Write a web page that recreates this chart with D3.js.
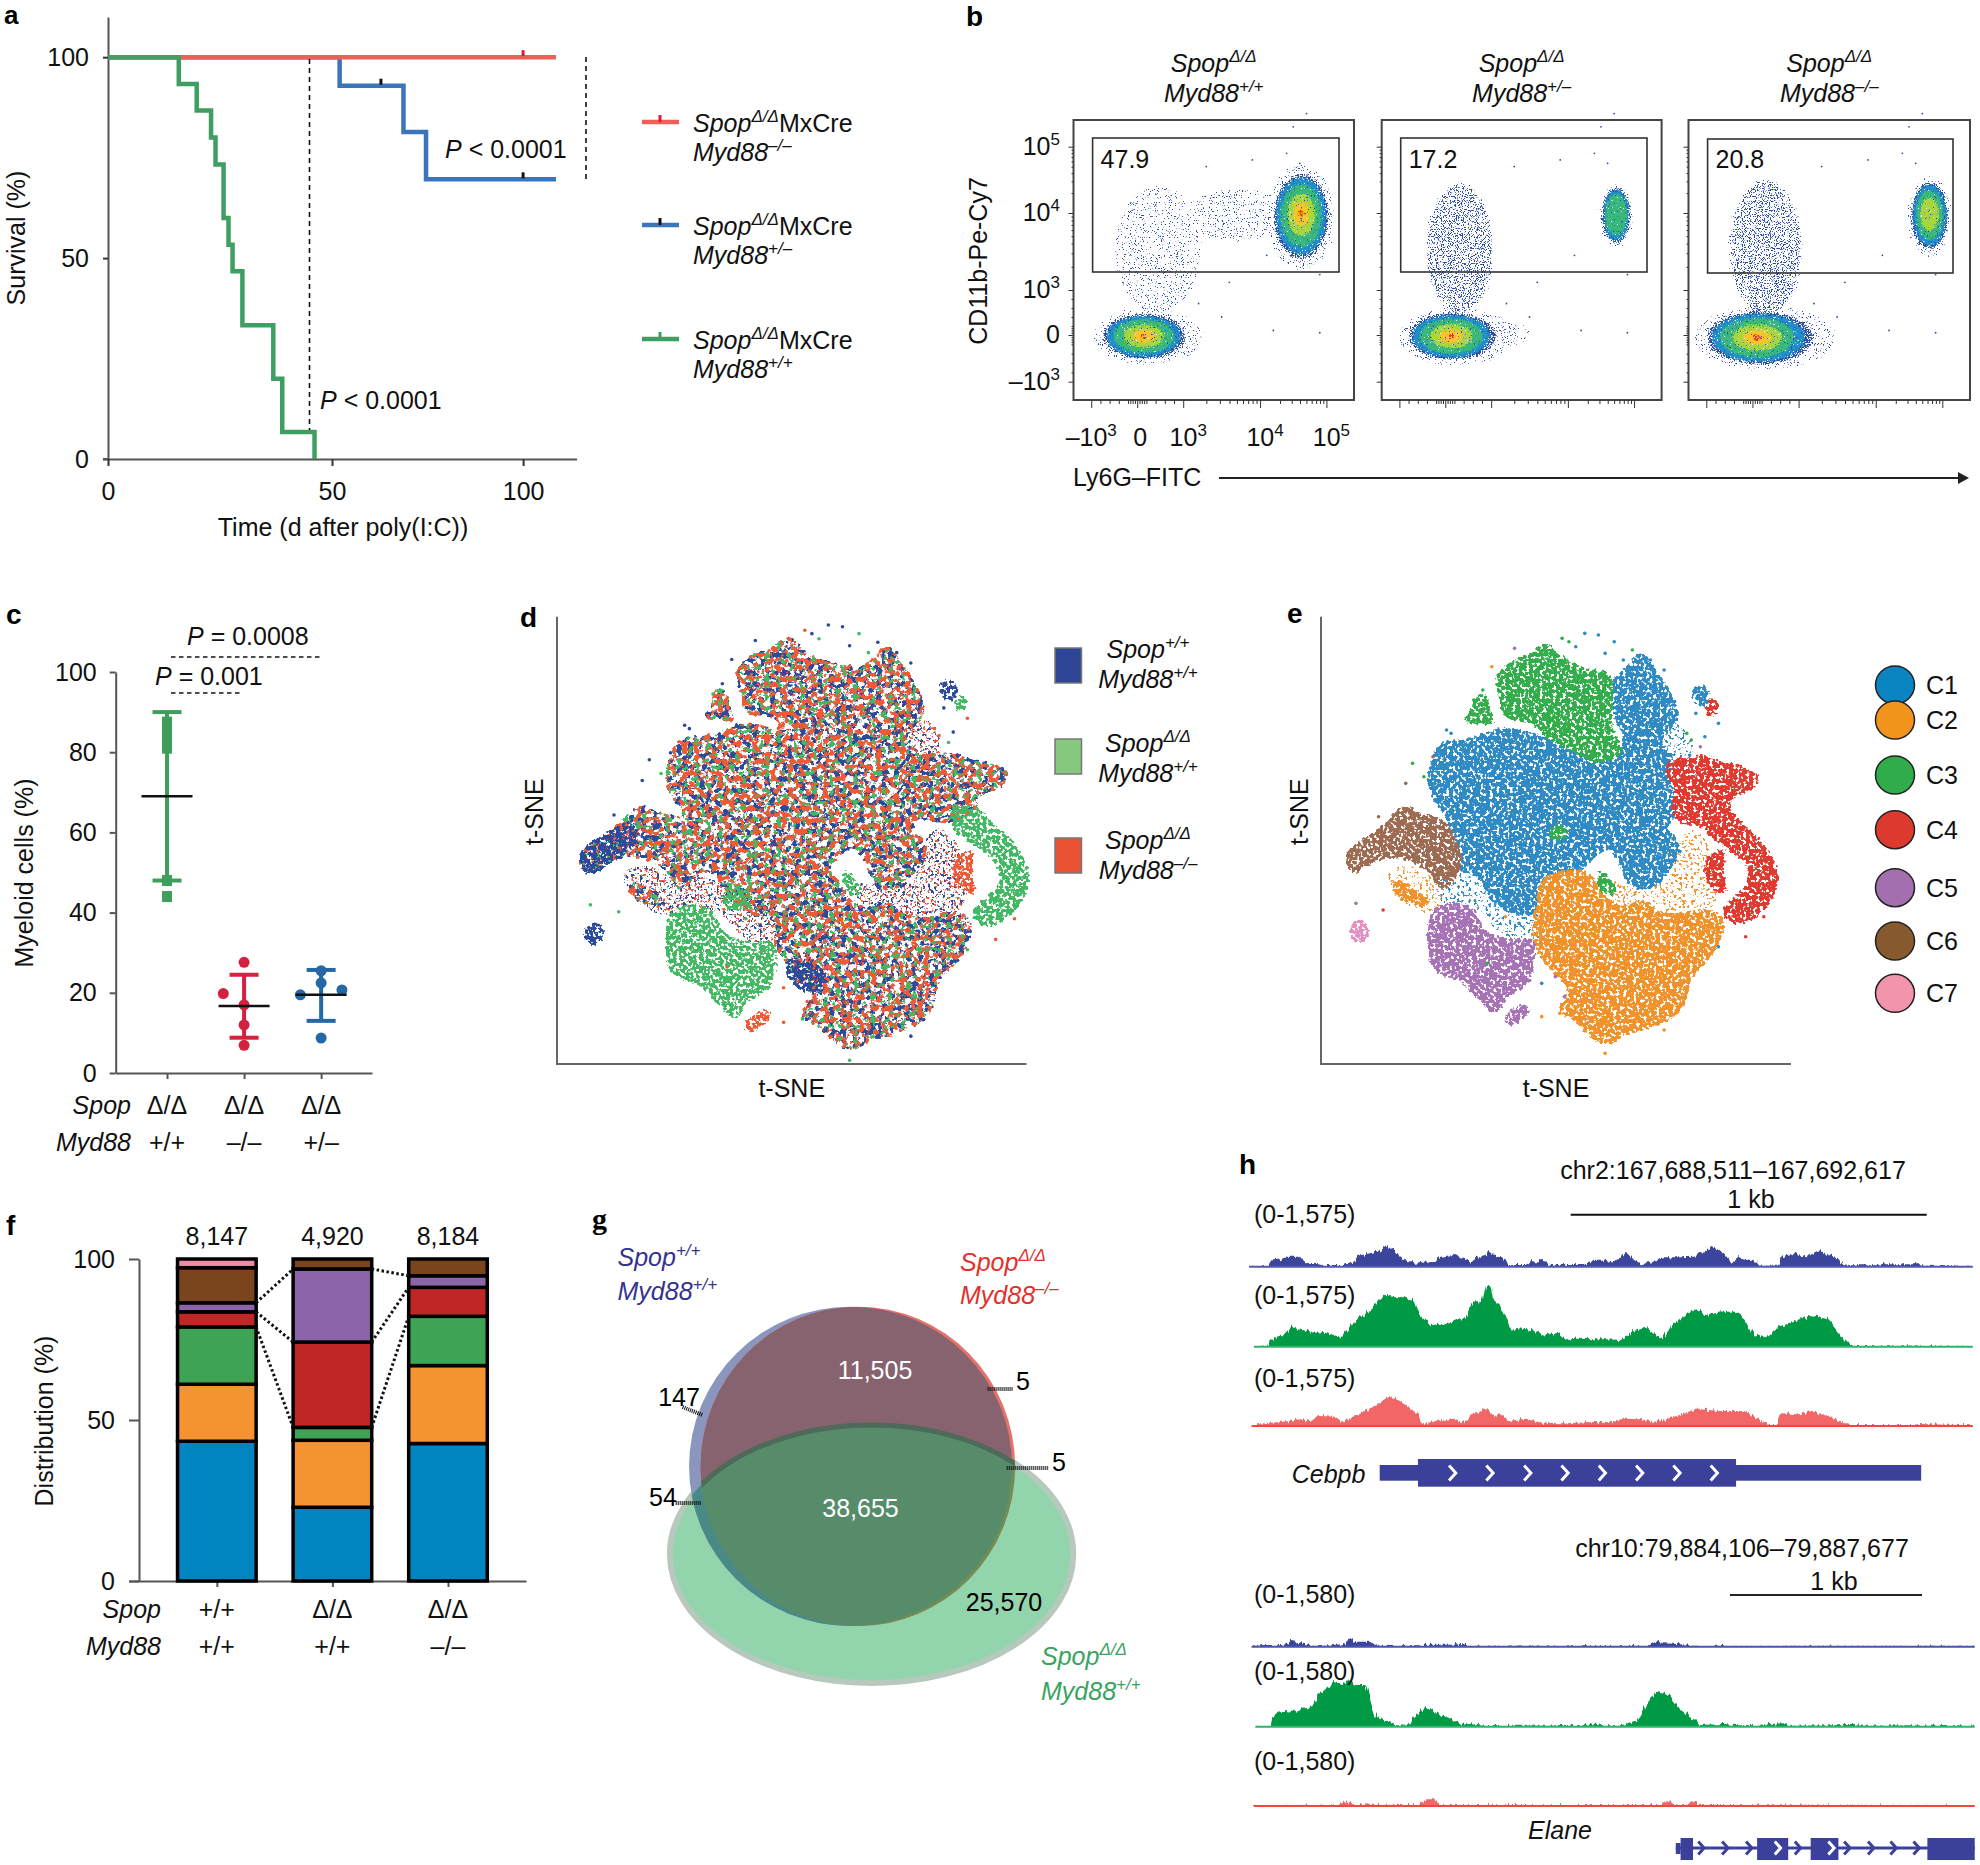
<!DOCTYPE html>
<html>
<head>
<meta charset="utf-8">
<style>
body { margin: 0; background: #fff; }
text { font-family: "Liberation Sans", sans-serif; }
</style>
</head>
<body>
<script src="https://d3js.org/d3.v7.min.js"></script>
<script>
// ---- a: survival
const days = { green: [0,15.8,19.8,23,24,25.8,26.9,27.8,30,36.9,38.9,46.1], blue: [0,52,68.7,74.6,108.6], red: [0,108.6] };
const survGreen = [100,93.3,86.7,80,73.3,60,53.3,46.7,33.3,20,6.7,0];
const survBlue = [100,92.9,81.4,69.6,69.6];
const survRed = [100,100];
const censorBlue = [[62.8,92.9],[100,69.6]];
const censorRed = [[100,100]];

// ---- b: flow populations, x/y in axis units (-1 = -10^3, 0, 1 = 10^3, 2 = 10^4, 3 = 10^5)
const facsGates = ["47.9","17.2","20.8"];
const facsTicks = [-1,0,1,2,3];
const facsPops1 = [[0.36,1.43,0.9,1.02,"sparse"],[1.75,2.0,0.75,0.4,"sparse"],[0.14,-0.02,0.9,0.5,5],[2.62,2.0,0.42,0.6,5]];
const facsPops2 = [[0.3,1.45,0.75,1.05,"med"],[1.1,0.05,0.5,0.3,"sparse"],[0.13,-0.02,0.95,0.52,5],[2.73,2.0,0.22,0.4,2]];
const facsPops3 = [[0.27,1.45,0.8,1.1,"med"],[1.0,0.02,0.5,0.3,"sparse"],[0.1,-0.05,1.1,0.58,5],[2.81,2.0,0.28,0.48,3]];
const facsStray = [[2.5,3.3],[2.7,3.5],[0.9,3.4],[2.4,2.9],[1.3,2.7],[1.9,2.8],[2.9,1.2],[1.5,0.4],[2.2,0.1],[2.9,0.05],[1.6,1.1],[2.1,1.45],[1.2,0.7],[2.6,2.75]];

// ---- c: myeloid cells
const myeloidMean = [69,16.7,19.5];
const myeloidHi = [90,24.5,25.7];
const myeloidLo = [48,8.8,13];
const myeloidPts = [
  [[0,87.5],[0,85.5],[0,83.5],[0,81],[0,48],[0,44]],
  [[0,27.6],[-0.27,19.8],[0,17],[0,12],[0,6.9]],
  [[0,25.5],[0,22.5],[0.27,20.7],[-0.27,19.5],[0,8.7]]
];

// ---- d, e: hand traced t-SNE region outlines, plus stray cells [x, y, cluster, genotype]
const c1Main = [[36,51],[38,46],[44,45],[52,41.5],[60,44],[68,48],[73,50],[78,53],[84,59],[90,65],[88,70],[82,71],[78,71],[76,75],[71,81],[67,86],[62,87],[60,90],[59,97],[52,96],[48,91],[46,86],[41,83],[40,75],[39,68],[36,62],[35,57]];
const c1Top = [[76,27],[79,23],[82,19],[85,24],[88,30],[90,38],[88,42],[86,47],[89,50],[88,56],[89,62],[84,62],[76,56],[77,50],[78,44],[76,38]];
const c1Right = [[75,74],[78,70],[84,69],[89,74],[90.5,79],[88,84],[85,89],[80,89],[78,84],[76,79]];
const c1Small = [[93,30],[96,29],[97,33],[96,35],[94,34]];
const c2Main = [[60,87],[65,84.5],[70,84.5],[74,92],[78,95],[82,93],[86,97],[92,97],[97,96],[100,99],[99,106],[96,112],[93,116],[92,122],[90,127],[86,130],[82,132],[78,133],[76,136],[72,135],[68,130],[64,126],[66,120],[60,110],[58,103],[59,95]];
const c2Left = [[27,87],[32,90],[36,95],[32,94],[28,92]];
const c3Top = [[50,27],[53,22],[58,19],[61,16],[64,20],[70,24],[75,25],[75.5,33],[75.5,42],[77.5,49],[72,51.5],[68,49],[62,45],[58,40],[52,38],[51,32]];
const c3Left = [[43,40],[45,34],[47,30],[49,38],[50,41],[47,40]];
const c3Spot = [[62,71],[65,71],[66,73],[64,75],[62,74]];
const c3Low = [[73,83],[75,87],[77,91],[73,90]];
const c4Upper = [[88,52],[96,50],[100,52],[104,53],[108,56],[106,60],[102,62],[101,66],[96,70],[90,69],[89,64],[90,60],[88,56]];
const c4Arc = [[96,66],[101,66],[104,70],[108,75],[111,81],[112,88],[110,94],[106,99],[102,100],[100,96],[103,92],[106,87],[105,82],[101,77],[96,72]];
const c4Inner = [[97,80],[100,78],[100,86],[101,91],[98,90],[96,85]];
const c4Small = [[98,32],[99,35],[98,38],[96,37]];
const c5Main = [[40,94],[45,96],[47,102],[53,105],[58,105],[58,113],[57,118],[52,122],[50,127],[47,124],[43,118],[36,113],[35,103],[36,97]];
const c5Tail = [[52,128],[57,124],[57,127],[52,131]];
const c6Main = [[17,79],[23,73],[30,65],[33,67],[38,69],[41,75],[42,83],[38,90],[35,84],[28,80],[22,82],[18,85]];
const c6Tail = [[17,79],[23,73],[28,70],[29,75],[23,82],[18,85]];
const c7Main = [[17.5,102],[20,99],[22,102],[21,105],[19,106]];
const dGreenRing = [[48,89],[52,89],[53,94],[49,96],[47,93]];
const dBluePatch = [[61,111],[68,112],[69,117],[64,119],[61,115]];
// thin scatter between the regions, with the cluster it takes in panel e
const fringeLow = [[42,85],[49,90],[59,95],[60,104],[52,104],[46,96],[38,94],[34,90]];
const fringeOrange = [[74,88],[80,88],[88,88],[92,96],[84,97],[78,95]];
const fringeLeft = [[26,84],[34,84],[38,92],[36,97],[29,93]];
const fringeHole = [[88,88],[92,72],[96,74],[98,95],[92,96]];
const fringeTop = [[86,40],[92,42],[93,52],[89,55]];
const fringeCluster = [0,1,1,1,0];
const strayCells = [[64.5,14.5,2,2],[66,15.5,2,0],[67.5,17,0,1],[69.5,13,0,0],[72.5,13.5,0,0],[76,15.5,0,1],[74,19,0,0],[78,21,0,1],[80,18,2,0],[84,21,0,0],[87,24,0,0],[54,17.5,4,0],[49,23,1,0],[47,30,2,0],[45,33,2,1],[39,42,0,0],[40,43,0,0],[92,43,2,2],[93,45,2,2],[95,47,4,1],[96,44,0,0],[99,40,0,2],[94,37,0,0],[31.5,52,2,0],[30,58,5,0],[34,56,2,1],[36,50,5,0],[24,68,5,0],[105,104,3,2],[109,98,3,2],[92,105,1,1],[93,100,1,0],[99,107,0,1],[63,116,4,2],[65,122,4,2],[60,128,1,2],[64,127,1,1],[87,132,1,0],[74,139,1,1],[60,118,0,2],[52,98,1,1],[55,100,0,0],[48,112,2,2],[25,96,3,1],[19,94,4,1]];

// ---- f: cluster share per genotype
const clusterNames = ["C1","C2","C3","C4","C5","C6","C7"];
const clusterColors = ["#0085c0","#f59331","#3fa355","#c02626","#8c64aa","#7a451c","#ef8aa8"];
const distCounts = ["8,147","4,920","8,184"];
const distBar1 = [43.4,17.7,17.8,4.7,2.8,10.9,2.7];
const distBar2 = [22.9,20.8,4,26.5,22.7,3.1,0];
const distBar3 = [42.7,24.2,15.3,9,3.6,5.2,0];

// ---- g: venn sets [cx, cy, rx, ry] in the venn's own units
const vennBlue = [707,799,422,479];
const vennRed = [726,799,411,479];
const vennGreen = [762,1062,527,387];

// ---- h: coverage tracks, [window position, signal]
const cebpbBlue = [[40,0],[80,2],[85,18],[105,22],[115,30],[145,30],[150,20],[160,8],[185,8],[190,5],[235,5],[255,12],[262,30],[275,35],[295,42],[310,45],[328,62],[345,45],[365,20],[385,12],[430,18],[440,30],[470,35],[490,25],[508,14],[515,30],[535,35],[540,50],[550,38],[575,25],[582,5],[615,5],[630,16],[660,16],[665,5],[740,5],[755,18],[785,18],[800,10],[815,28],[830,40],[845,20],[860,8],[880,12],[905,28],[940,28],[970,30],[985,40],[1010,60],[1035,35],[1050,10],[1060,28],[1100,18],[1105,3],[1150,3],[1155,28],[1185,40],[1195,28],[1215,38],[1235,55],[1250,35],[1268,30],[1280,8],[1295,4],[1355,4],[1360,7],[1450,7],[1455,3],[1553,0]];
const cebpbGreen = [[50,0],[80,0],[83,18],[100,28],[115,40],[128,60],[140,52],[160,48],[180,42],[200,45],[230,30],[245,48],[262,82],[285,100],[300,120],[315,145],[330,155],[345,145],[360,150],[380,140],[395,100],[415,72],[430,65],[445,65],[470,78],[495,92],[508,135],[528,138],[535,185],[545,185],[550,145],[565,125],[578,85],[590,48],[605,55],[640,48],[650,32],[685,42],[703,20],[720,24],[760,22],[790,22],[820,20],[840,48],[865,60],[885,40],[905,25],[925,65],[950,90],[975,115],[995,95],[1030,105],[1055,105],[1075,85],[1095,35],[1120,28],[1150,60],[1180,75],[1215,95],[1250,85],[1270,50],[1285,20],[1303,2],[1553,0]];
const cebpbRed = [[45,0],[72,8],[125,15],[150,20],[170,15],[185,30],[220,28],[235,12],[260,30],[290,50],[310,65],[332,90],[355,75],[380,50],[392,35],[403,5],[430,15],[470,22],[490,8],[505,35],[520,40],[535,55],[555,25],[565,40],[580,15],[620,22],[650,10],[700,8],[760,12],[800,12],[820,22],[860,20],[885,12],[915,22],[945,35],[975,52],[1020,45],[1075,45],[1105,20],[1130,3],[1143,3],[1150,38],[1190,35],[1215,45],[1250,30],[1285,8],[1300,3],[1430,3],[1440,6],[1553,2]];
const elaneBlue = [[45,0],[70,5],[90,5],[95,0],[115,8],[130,18],[145,10],[170,5],[172,0],[210,4],[240,8],[252,24],[262,15],[295,15],[305,3],[400,1],[405,6],[470,6],[480,9],[498,4],[500,0],[870,2],[888,16],[905,10],[960,6],[965,0],[1010,0],[1015,6],[1030,5],[1032,0],[1557,0]];
const elaneGreen = [[53,0],[83,0],[87,30],[105,48],[130,45],[150,52],[170,60],[185,95],[200,110],[215,135],[235,128],[250,140],[265,125],[285,125],[295,70],[305,25],[320,20],[345,5],[370,3],[385,25],[410,62],[430,40],[460,25],[485,6],[510,10],[530,2],[670,3],[690,5],[745,4],[760,10],[780,4],[820,5],[850,15],[870,65],[890,105],[915,95],[935,60],[960,30],[985,5],[1030,8],[1060,4],[1100,5],[1155,10],[1175,3],[1300,5],[1320,3],[1425,4],[1557,0]];
const elaneRed = [[50,0],[225,2],[245,16],[260,3],[282,3],[285,8],[297,4],[395,3],[410,20],[430,20],[435,3],[900,3],[905,12],[920,15],[928,3],[955,3],[968,16],[985,3],[1557,0]];
const cebpbThin = [313,1445];
const cebpbThick = [393,1058];
const cebpbChevrons = [465,543,622,700,778,856,934,1012];
const elaneExons = [[942,968],[1102,1167],[1214,1272],[1458,1557]];
const elaneIntronMarks = [985,1035,1085,1187,1290,1340,1387,1435];
const elaneExonMarks = [1145,1257];

const svg = d3.select("body").append("svg").attr("width",1980).attr("height",1865);
svg.append("rect").attr("width",1980).attr("height",1865).attr("fill","#fff");
const defs = svg.append("defs");

const DD = "Δ/Δ", PP = "+/+", PM = "+/–", MM = "–/–";
function spop(s) { return [["Spop","i"],[s,"si"]]; }
function myd(s) { return [["Myd88","i"],[s,"si"]]; }

function rich(x, y, runs, o) {
  o = o || {};
  var size = o.size || 25;
  if (o.rotate) x = x + size*0.36;
  var t = svg.append("text").attr("x",x).attr("y",y)
    .attr("font-size",size).attr("fill",o.fill || "#111")
    .attr("text-anchor",o.anchor || "start");
  if (o.rotate) t.attr("transform","rotate(-90 "+x+" "+y+")");
  if (o.weight) t.attr("font-weight",o.weight);
  if (o.family) t.style("font-family",o.family);
  var shift = 0;
  runs.forEach(function(r) {
    var s = r[1] || "";
    var up = s.indexOf("s") >= 0 ? -size*0.4 : 0;
    var ts = t.append("tspan").text(r[0]).attr("dy",up-shift);
    shift = up;
    if (s.indexOf("i") >= 0) ts.attr("font-style","italic");
    if (s.indexOf("s") >= 0) ts.attr("font-size",size*0.68);
  });
  return t;
}

function styleAxis(g, size) {
  g.attr("font-family",null).attr("font-size",size || 25);
  g.selectAll("path,line").attr("stroke","#555").attr("stroke-width",2);
  g.selectAll("text").attr("fill","#111").style("font-family",'"Liberation Sans"');
}

// noise texture only: it breaks a traced region into speckles thinning out at the edge, it carries no values
function speck(id, freq, oct, seed, cut, wobble, blur, boost) {
  var f = defs.append("filter").attr("id",id)
    .attr("x","-40%").attr("y","-40%").attr("width","180%").attr("height","180%")
    .attr("color-interpolation-filters","sRGB");
  f.append("feTurbulence").attr("type","fractalNoise").attr("baseFrequency",freq)
    .attr("numOctaves",oct).attr("seed",seed).attr("result","t");
  f.append("feColorMatrix").attr("in","t").attr("type","matrix")
    .attr("values","0 0 0 0 1 0 0 0 0 1 0 0 0 0 1 1 0 0 0 0").attr("result","n");
  f.append("feDisplacementMap").attr("in","SourceGraphic").attr("in2","t").attr("scale",wobble)
    .attr("xChannelSelector","R").attr("yChannelSelector","G").attr("result","d");
  f.append("feGaussianBlur").attr("in","d").attr("stdDeviation",blur).attr("result","b");
  f.append("feColorMatrix").attr("in","b").attr("type","matrix")
    .attr("values","1 0 0 0 0 0 1 0 0 0 0 0 1 0 0 0 0 0 "+boost+" 0").attr("result","s");
  f.append("feComposite").attr("in","s").attr("in2","n").attr("operator","arithmetic")
    .attr("k1",1).attr("k2",0).attr("k3",0).attr("k4",0).attr("result","p");
  f.append("feColorMatrix").attr("in","p").attr("type","matrix")
    .attr("values","1 0 0 0 0 0 1 0 0 0 0 0 1 0 0 0 0 0 16 "+(-16*cut));
}
speck("tsneE",0.3,2,3,0.37,8,4,1.8);
speck("tsneBlue",0.17,3,5,0.49,8,4,1.8);
speck("tsneRed",0.17,3,11,0.5,8,4,1.8);
speck("tsneGreen",0.17,3,17,0.6,8,4,1.8);
speck("tsneDense",0.3,2,23,0.41,8,4,1.8);
speck("tsneSparse",0.35,2,29,0.58,8,5,1.8);
speck("tsneSparse2",0.35,2,31,0.6,8,5,1.8);
speck("facsSparse",0.85,2,7,0.63,6,8,1.5);
speck("facsMed",0.85,2,9,0.55,6,10,1.5);
speck("facsDense",0.85,2,13,0.43,5,5,1.5);
speck("facsCore",0.7,2,19,0.3,4,3,1.3);

function letter(s, x, y, size, serif) {
  rich(x,y,[[s]],{size:size || 28,weight:"bold",fill:"#000",family:serif ? '"Liberation Serif"' : null});
}

// ---------------- panel a
const ax = d3.scaleLinear().domain([0,50,114]).range([108,332,576.6]);
const ay = d3.scaleLinear().domain([0,110]).range([459,17]);
letter("a",4,24,26);
styleAxis(svg.append("g").attr("transform","translate(108,0)")
  .call(d3.axisLeft(ay).tickValues([0,50,100]).tickSize(5).tickPadding(14).tickSizeOuter(0).tickFormat(d3.format("d"))));
styleAxis(svg.append("g").attr("transform","translate(0,459)")
  .call(d3.axisBottom(ax).tickValues([0,50,100]).tickSize(7).tickPadding(16).tickSizeOuter(0).tickFormat(d3.format("d"))));
svg.append("line").attr("x1",103).attr("x2",108).attr("y1",459).attr("y2",459).attr("stroke","#555").attr("stroke-width",2);
rich(16,238,[["Survival (%)"]],{rotate:true,anchor:"middle"});
rich(343,536,[["Time (d after poly(I:C))"]],{anchor:"middle"});
const survLine = d3.line().x(function(d){return ax(d[0]);}).y(function(d){return ay(d[1]);}).curve(d3.curveStepAfter);
[[days.blue,survBlue,"#3a74bd"],[days.red,survRed,"#ee6055"],[days.green,survGreen,"#3f9e62"]].forEach(function(s) {
  svg.append("path").datum(s[0].map(function(d,i){return [d,s[1][i]];})).attr("d",survLine)
    .attr("fill","none").attr("stroke",s[2]).attr("stroke-width",4.5);
});
[[censorBlue,"#111"],[censorRed,"#e0183c"]].forEach(function(c) {
  svg.append("g").selectAll("line").data(c[0]).enter().append("line")
    .attr("x1",function(d){return ax(d[0]);}).attr("x2",function(d){return ax(d[0]);})
    .attr("y1",function(d){return ay(d[1])-7;}).attr("y2",function(d){return ay(d[1])-1;})
    .attr("stroke",c[1]).attr("stroke-width",3);
});
function dashed(x1,y1,x2,y2,w,dash) {
  svg.append("line").attr("x1",x1).attr("y1",y1).attr("x2",x2).attr("y2",y2)
    .attr("stroke","#111").attr("stroke-width",w || 1.6).attr("stroke-dasharray",dash || "5 4");
}
dashed(309.5,59,309.5,430);
dashed(586,57,586,182);
rich(445,158,[["P","i"],[" < 0.0001"]]);
rich(320,409,[["P","i"],[" < 0.0001"]]);
[["#ee6055","#e0183c",122,MM,132],["#3a74bd","#111",225,PM,235],["#3f9e62","#3f9e62",339,PP,349]].forEach(function(l) {
  svg.append("line").attr("x1",642).attr("x2",679).attr("y1",l[2]).attr("y2",l[2]).attr("stroke",l[0]).attr("stroke-width",4.5);
  svg.append("line").attr("x1",660).attr("x2",660).attr("y1",l[2]-7).attr("y2",l[2]).attr("stroke",l[1]).attr("stroke-width",3);
  rich(693,l[4],spop(DD).concat([["MxCre"]]));
  rich(693,l[4]+29,myd(l[3]));
});

// ---------------- panel b
letter("b",966,26);
const facsColors = ["#2c4da6","#1f8fc9","#38b97a","#a9d63f","#f7c52b","#ea2f22"];
const facsLevelSize = [1,0.9,0.74,0.5,0.3,0.13];
const facsMinor = [-0.8,-0.6,-0.4,-0.2,-0.15,-0.1,-0.05,0.05,0.1,0.15,0.2,0.4,0.6,0.8];
[1,2].forEach(function(dec){[2,3,4,5,6,7,8,9].forEach(function(m){facsMinor.push(dec+Math.log10(m));});});
function facsPanel(left, right, gate, pops, value, title, labelled) {
  var px = right-left;
  var x = d3.scaleLinear().domain([-1,0,1,2,3]).range([left+px*27/427,left+px*97/427,left+px*167/427,left+px*284/427,left+px*385/427]);
  var y = d3.scaleLinear().domain([-1,0,1,2,3]).range([381.7,335,290,213,146.7]);
  var g = svg.append("g");
  function ell(p, k, fill, filt) {
    g.append("ellipse").attr("cx",(x(p[0]-p[2]*k)+x(p[0]+p[2]*k))/2).attr("cy",(y(p[1]-p[3]*k)+y(p[1]+p[3]*k))/2)
      .attr("rx",Math.abs(x(p[0]+p[2]*k)-x(p[0]-p[2]*k))/2).attr("ry",Math.abs(y(p[1]+p[3]*k)-y(p[1]-p[3]*k))/2)
      .attr("fill",fill).attr("filter",filt ? "url(#"+filt+")" : null);
  }
  pops.forEach(function(p) {
    if (p[4] === "sparse") { ell(p,1,facsColors[0],"facsSparse"); return; }
    if (p[4] === "med") { ell(p,1,facsColors[0],"facsMed"); return; }
    ell(p,1.3,facsColors[0],"facsSparse");
    ell(p,1,facsColors[0],"facsDense");
    for (var k=1;k<=p[4];k++) ell(p,facsLevelSize[k],facsColors[k],"facsCore");
  });
  g.selectAll("circle").data(facsStray).enter().append("circle")
    .attr("cx",function(d){return x(d[0]);}).attr("cy",function(d){return y(d[1]);}).attr("r",0.9).attr("fill",facsColors[0]);
  svg.append("rect").attr("x",left).attr("y",120).attr("width",px).attr("height",280).attr("fill","none").attr("stroke","#444").attr("stroke-width",2);
  svg.append("rect").attr("x",gate[0]).attr("y",gate[2]).attr("width",gate[1]-gate[0]).attr("height",gate[3]-gate[2]).attr("fill","none").attr("stroke","#333").attr("stroke-width",1.6);
  rich(gate[0]+8,168,[[value]]);
  var gx = svg.append("g").attr("transform","translate(0,400)");
  gx.call(d3.axisBottom(x).tickValues(facsTicks).tickSize(8).tickFormat(""));
  gx.select(".domain").remove();
  var gxm = svg.append("g").attr("transform","translate(0,400)");
  gxm.call(d3.axisBottom(x).tickValues(facsMinor).tickSize(4).tickFormat(""));
  gxm.select(".domain").remove();
  var gy = svg.append("g").attr("transform","translate("+left+",0)");
  gy.call(d3.axisLeft(y).tickValues(facsTicks).tickSize(5).tickFormat(""));
  gy.select(".domain").remove();
  var gym = svg.append("g").attr("transform","translate("+left+",0)");
  gym.call(d3.axisLeft(y).tickValues(facsMinor).tickSize(2).tickFormat(""));
  gym.select(".domain").remove();
  svg.selectAll("g .tick line").attr("stroke","#333");
  rich((left+right)/2,72,spop(DD),{anchor:"middle"});
  rich((left+right)/2,102,myd(title),{anchor:"middle"});
  if (labelled) {
    var yl = [["–10",-1],["0",0],["10",1],["10",2],["10",3]];
    var sup = ["3","","3","4","5"];
    yl.forEach(function(t,i) {
      rich(1060,y(t[1])+8,sup[i] ? [[t[0]],[sup[i],"s"]] : [[t[0]]],{anchor:"end"});
      rich(x(t[1])+(i>=2?5:i==1?3:0),446,sup[i] ? [[t[0]],[sup[i],"s"]] : [[t[0]]],{anchor:"middle"});
    });
  }
}
facsPanel(1073.5,1354,[1092.6,1339,138,272],facsPops1,facsGates[0],PP,true);
facsPanel(1381.7,1661.6,[1400.7,1647,138,272],facsPops2,facsGates[1],PM,false);
facsPanel(1688.5,1970,[1707.6,1953,139,273],facsPops3,facsGates[2],MM,false);
rich(978,261,[["CD11b-Pe-Cy7"]],{rotate:true,anchor:"middle"});
rich(1073,486,[["Ly6G–FITC"]]);
svg.append("line").attr("x1",1219).attr("x2",1962).attr("y1",478).attr("y2",478).attr("stroke","#222").attr("stroke-width",1.8);
svg.append("path").attr("d","M1958,472L1969,478L1958,484Z").attr("fill","#222");

// ---------------- panel c
letter("c",6,624);
const cy = d3.scaleLinear().domain([0,100]).range([1073,672]);
const cx = d3.scaleLinear().domain([-0.666,2.66]).range([115.7,372]);
const cColors = ["#3f9e5b","#d4213f","#2469a5"];
styleAxis(svg.append("g").attr("transform","translate(115.7,0)")
  .call(d3.axisLeft(cy).tickValues([0,20,40,60,80,100]).tickSize(6).tickPadding(13).tickSizeOuter(0)));
var cxAxis = svg.append("g").attr("transform","translate(0,1073)")
  .call(d3.axisBottom(cx).tickValues([0,1,2]).tickSize(6).tickSizeOuter(0).tickFormat(""));
styleAxis(cxAxis);
myeloidMean.forEach(function(m,i) {
  var col = cColors[i], g = svg.append("g").attr("stroke",col).attr("stroke-width",4);
  g.append("line").attr("x1",cx(i)).attr("x2",cx(i)).attr("y1",cy(myeloidHi[i])).attr("y2",cy(myeloidLo[i]));
  [myeloidHi[i],myeloidLo[i]].forEach(function(v) {
    g.append("line").attr("x1",cx(i)-14.5).attr("x2",cx(i)+14.5).attr("y1",cy(v)).attr("y2",cy(v));
  });
  svg.selectAll(null).data(myeloidPts[i]).enter().append(i === 0 ? "rect" : "circle")
    .each(function(p) {
      var el = d3.select(this);
      if (i === 0) el.attr("x",cx(i+p[0])-5).attr("y",cy(p[1])-5.5).attr("width",10).attr("height",11);
      else el.attr("cx",cx(i+p[0])).attr("cy",cy(p[1])).attr("r",5.5);
    }).attr("fill",col);
  svg.append("line").attr("x1",cx(i)-25.5).attr("x2",cx(i)+25.5).attr("y1",cy(m)).attr("y2",cy(m)).attr("stroke","#111").attr("stroke-width",2.6);
});
rich(24,873,[["Myeloid cells (%)"]],{rotate:true,anchor:"middle"});
rich(187,645,[["P","i"],[" = 0.0008"]]);
dashed(171,657,322,657,1.6,"4.5 3.5");
rich(155,685,[["P","i"],[" = 0.001"]]);
dashed(171,693,240,693,1.6,"4.5 3.5");
rich(131,1114,[["Spop","i"]],{anchor:"end"});
rich(131,1151,[["Myd88","i"]],{anchor:"end"});
[DD,DD,DD].forEach(function(s,i){ rich(cx(i),1114,[[s]],{anchor:"middle"}); });
[PP,MM,PM].forEach(function(s,i){ rich(cx(i),1151,[[s]],{anchor:"middle"}); });

// ---------------- panels d, e share the traced regions
const closedLine = function(x,y) {
  return d3.line().x(function(d){return x(d[0]);}).y(function(d){return y(d[1]);}).curve(d3.curveCatmullRomClosed.alpha(0.5));
};
const fringes = [fringeLow,fringeOrange,fringeLeft,fringeHole,fringeTop];
function tsneAxes(x0, x1, lx) {
  svg.append("path").attr("d","M"+x0+",616.7V1064H"+x1).attr("fill","none").attr("stroke","#666").attr("stroke-width",2);
  rich(lx,811.7,[["t-SNE"]],{rotate:true,anchor:"middle"});
  rich((x0+x1)/2,1097,[["t-SNE"]],{anchor:"middle"});
}
letter("d",520,627);
tsneAxes(557,1026.5,534);
const dx = d3.scaleLinear().domain([17,112.5]).range([581,1031]);
const dy = d3.scaleLinear().domain([13,136.5]).range([625,1051.7]);
const dLine = closedLine(dx,dy);
const genoColors = ["#2f4596","#86c97e","#ea5234"];
const genoDark = ["#2c4a9b","#43b863","#ee5a36"];
const dMixed = [c1Main,c1Top,c1Right,c3Top,c3Left,c2Main,c4Upper,c6Main,c2Left];
const dGreen = [c4Arc,c5Main,c4Small,c3Low,dGreenRing];
const dRed = [c4Inner,c5Tail];
const dBlue = [c7Main,c6Tail,c1Small,dBluePatch];
[["tsneSparse",genoDark[0]],["tsneSparse2",genoDark[2]]].forEach(function(l) {
  var g = svg.append("g").attr("filter","url(#"+l[0]+")");
  g.selectAll("path").data(fringes).enter().append("path").attr("d",dLine).attr("fill",l[1]);
});
[["tsneBlue",genoDark[0]],["tsneRed",genoDark[2]],["tsneGreen",genoDark[1]]].forEach(function(l) {
  var g = svg.append("g").attr("filter","url(#"+l[0]+")");
  g.selectAll("path").data(dMixed).enter().append("path").attr("d",dLine).attr("fill",l[1]);
});
[["tsneDense",genoDark[1],dGreen],["tsneDense",genoDark[2],dRed],["tsneDense",genoDark[0],dBlue]].forEach(function(l) {
  var g = svg.append("g").attr("filter","url(#"+l[0]+")");
  g.selectAll("path").data(l[2]).enter().append("path").attr("d",dLine).attr("fill",l[1]);
});
svg.append("g").selectAll("circle").data(strayCells).enter().append("circle")
  .attr("cx",function(d){return dx(d[0]);}).attr("cy",function(d){return dy(d[1]);}).attr("r",1.8)
  .attr("fill",function(d){return genoDark[d[3]];});
[[648,[spop(PP),myd(PP)],658],[739,[spop(DD),myd(PP)],752],[838,[spop(DD),myd(MM)],849]].forEach(function(l,i) {
  svg.append("rect").attr("x",1055).attr("y",l[0]).attr("width",26.5).attr("height",35)
    .attr("fill",genoColors[i]).attr("stroke","#777").attr("stroke-width",1.5);
  rich(1148,l[2],l[1][0],{anchor:"middle"});
  rich(1148,l[2]+30,l[1][1],{anchor:"middle"});
});

letter("e",1287,623);
tsneAxes(1321,1791,1299);
const ex = d3.scaleLinear().domain([11.3,115]).range([1321,1791]);
const ey = d3.scaleLinear().domain([8,142.2]).range([616.7,1064]);
const eLine = closedLine(ex,ey);
const eClusters = [[c1Main,c1Top,c1Right,c1Small],[c2Main,c2Left],[c3Top,c3Left,c3Low],[c4Upper,c4Arc,c4Inner,c4Small],[c5Main,c5Tail],[c6Main],[c7Main]];
const eColors = ["#2f8ac4","#f0922b","#33ad4b","#e03a30","#a673b5","#9d6b52","#e58fbe"];
fringes.forEach(function(f,i) {
  svg.append("path").datum(f).attr("d",eLine).attr("fill",eColors[fringeCluster[i]]).attr("filter","url(#tsneSparse)");
});
eClusters.forEach(function(regions,i) {
  var g = svg.append("g").attr("filter","url(#tsneE)");
  g.selectAll("path").data(regions).enter().append("path").attr("d",eLine).attr("fill",eColors[i]);
});
svg.append("g").attr("filter","url(#tsneE)").selectAll("path").data([c3Spot]).enter().append("path").attr("d",eLine).attr("fill",eColors[2]);
svg.append("g").selectAll("circle").data(strayCells).enter().append("circle")
  .attr("cx",function(d){return ex(d[0]);}).attr("cy",function(d){return ey(d[1]);}).attr("r",1.8)
  .attr("fill",function(d){return eColors[d[2]];});
const legendE = ["#0a85c2","#f3941f","#31ac4b","#dd3a2f","#a46fb1","#86592f","#f294ab"];
[685,720,775,829.7,887.7,941,993.3].forEach(function(y,i) {
  svg.append("ellipse").attr("cx",1895).attr("cy",y).attr("rx",19.5).attr("ry",19)
    .attr("fill",legendE[i]).attr("stroke","#222").attr("stroke-width",1.5);
  rich(1926,y+9,[[clusterNames[i]]]);
});

// ---------------- panel f
letter("f",6,1235);
const fx = d3.scaleLinear().domain([-0.76,2.675]).range([129,526]);
const fy = d3.scaleLinear().domain([0,100]).range([1581,1259]);
const fRows = [distBar1,distBar2,distBar3].map(function(b) {
  var r = {};
  clusterNames.forEach(function(c,i){ r[c] = b[i]; });
  return r;
});
const fStack = d3.stack().keys(clusterNames)(fRows);
styleAxis(svg.append("g").attr("transform","translate(139,0)")
  .call(d3.axisLeft(fy).tickValues([0,50,100]).tickSize(10).tickPadding(14).tickSizeOuter(0)));
styleAxis(svg.append("g").attr("transform","translate(0,1581)")
  .call(d3.axisBottom(fx).tickValues([0,1,2]).tickSize(6).tickSizeOuter(0).tickFormat("")));
fStack.forEach(function(layer,i) {
  svg.append("g").selectAll("rect").data(layer.filter(function(d){return d[1]-d[0]>0;})).enter().append("rect")
    .attr("x",function(d){return fx(layer.indexOf(d)-0.34);})
    .attr("width",fx(0.34)-fx(-0.34))
    .attr("y",function(d){return fy(d[1]);})
    .attr("height",function(d){return fy(d[0])-fy(d[1]);})
    .attr("fill",clusterColors[i]).attr("stroke","#000").attr("stroke-width",3.5);
});
[2,3,4].forEach(function(k) {
  [0,1].forEach(function(b) {
    svg.append("line").attr("x1",fx(b+0.34)).attr("x2",fx(b+1-0.34))
      .attr("y1",fy(fStack[k][b][1])).attr("y2",fy(fStack[k][b+1][1]))
      .attr("stroke","#111").attr("stroke-width",3).attr("stroke-dasharray","2.5 2.5");
  });
});
rich(44,1421,[["Distribution (%)"]],{rotate:true,anchor:"middle"});
distCounts.forEach(function(c,i){ rich(fx(i),1245,[[c]],{anchor:"middle"}); });
rich(161,1618,[["Spop","i"]],{anchor:"end"});
rich(161,1655,[["Myd88","i"]],{anchor:"end"});
[PP,DD,DD].forEach(function(s,i){ rich(fx(i),1618,[[s]],{anchor:"middle"}); });
[PP,PP,MM].forEach(function(s,i){ rich(fx(i),1655,[[s]],{anchor:"middle"}); });

// ---------------- panel g
letter("g",592,1229,30,true);
const gx = d3.scaleLinear().domain([0,1568]).range([580,1180]);
const gy = d3.scaleLinear().domain([0,1560]).range([1200,1720]);
function venn(parent, v, fill, stroke, sw) {
  return parent.append("ellipse").attr("cx",gx(v[0])).attr("cy",gy(v[1]))
    .attr("rx",gx(v[2])-gx(0)).attr("ry",gy(v[3])-gy(0))
    .attr("fill",fill).attr("stroke",stroke || "none").attr("stroke-width",sw || 0);
}
function vennClip(id, v) { venn(defs.append("clipPath").attr("id",id),v,"#000"); }
vennClip("clipBlue",vennBlue); vennClip("clipRed",vennRed); vennClip("clipGreen",vennGreen);
venn(svg,vennGreen,"#92d5ad","#b7c8bd",6);
venn(svg,vennBlue,"#8a96bd");
venn(svg,vennRed,"#e4716a");
venn(svg.append("g").attr("clip-path","url(#clipRed)"),vennBlue,"#86636f");
var gIn = svg.append("g").attr("clip-path","url(#clipGreen)");
venn(gIn,vennBlue,"#4a8a86");
venn(gIn,vennRed,"#6f8e55");
venn(gIn.append("g").attr("clip-path","url(#clipRed)"),vennBlue,"#578c6a");
venn(svg.append("g").attr("clip-path","url(#clipRed)"),vennGreen,"none","#4e6a58",5);
rich(875,1379,[["11,505"]],{anchor:"middle",fill:"#fff"});
rich(860.5,1517,[["38,655"]],{anchor:"middle",fill:"#fff"});
rich(1004,1611,[["25,570"]],{anchor:"middle",fill:"#000"});
rich(679,1406,[["147"]],{anchor:"middle",fill:"#000"});
rich(1023,1390,[["5"]],{anchor:"middle",fill:"#000"});
rich(1059,1471,[["5"]],{anchor:"middle",fill:"#000"});
rich(663,1506,[["54"]],{anchor:"middle",fill:"#000"});
[[682.6,1407,702.5,1415],[987.6,1389,1012.5,1389],[1006.7,1468,1048.8,1468],[675.7,1503,701.7,1503]].forEach(function(l) {
  dashed(l[0],l[1],l[2],l[3],4,"1 1");
});
rich(617.5,1266,spop(PP),{fill:"#34338f"});
rich(617.5,1300,myd(PP),{fill:"#34338f"});
rich(960,1271,spop(DD),{fill:"#e4302a"});
rich(960,1304,myd(MM),{fill:"#e4302a"});
rich(1041,1665,spop(DD),{fill:"#3aa35f"});
rich(1041,1700,myd(PP),{fill:"#3aa35f"});

// ---------------- panel h
letter("h",1239,1174);
const hx = d3.scaleLinear().domain([0,1568]).range([1230,1980]);
const hh = d3.scaleLinear().domain([0,300]).range([0,100]);
// rough top edge for the coverage outlines, texture only
var rough = defs.append("filter").attr("id","rough").attr("x","0%").attr("y","-20%").attr("width","100%").attr("height","140%");
rough.append("feTurbulence").attr("type","fractalNoise").attr("baseFrequency","0.4 0.005").attr("numOctaves",2).attr("seed",4).attr("result","t");
rough.append("feDisplacementMap").attr("in","SourceGraphic").attr("in2","t").attr("scale",7)
  .attr("xChannelSelector","A").attr("yChannelSelector","R");
function track(data, base, fill, lineCol, from, to, id) {
  defs.append("clipPath").attr("id",id).append("rect").attr("x",1230).attr("y",base-90).attr("width",750).attr("height",90);
  var area = d3.area().x(function(d){return hx(d[0]);}).y0(base+8).y1(function(d){return base-hh(d[1]);});
  svg.append("g").attr("clip-path","url(#"+id+")").append("path").datum(data).attr("d",area).attr("fill",fill).attr("filter","url(#rough)");
  svg.append("line").attr("x1",hx(from)).attr("x2",hx(to)).attr("y1",base).attr("y2",base).attr("stroke",lineCol).attr("stroke-width",2);
}
const trackBlue = "#3b449b", trackGreen = "#009a44", trackRed = "#f26666";
track(cebpbBlue,1266.7,trackBlue,"#5159b5",40,1553,"t1");
track(cebpbGreen,1346.7,trackGreen,"#2cb56a",50,1553,"t2");
track(cebpbRed,1426,trackRed,"#f0483c",45,1553,"t3");
track(elaneBlue,1646.7,trackBlue,"#4a55b0",45,1557,"t4");
track(elaneGreen,1726.7,trackGreen,"#2cb56a",53,1557,"t5");
track(elaneRed,1806,trackRed,"#f0483c",50,1557,"t6");
[1222.7,1304,1386.7].forEach(function(y){ rich(1254,y,[["(0-1,575)"]]); });
[1603,1680,1770].forEach(function(y){ rich(1254,y,[["(0-1,580)"]]); });
rich(1733,1179,[["chr2:167,688,511–167,692,617"]],{anchor:"middle"});
rich(1751,1208,[["1 kb"]],{anchor:"middle"});
svg.append("line").attr("x1",1570.7).attr("x2",1926.7).attr("y1",1214.7).attr("y2",1214.7).attr("stroke","#111").attr("stroke-width",2);
rich(1742,1557,[["chr10:79,884,106–79,887,677"]],{anchor:"middle"});
rich(1834,1590,[["1 kb"]],{anchor:"middle"});
svg.append("line").attr("x1",1730).attr("x2",1922).attr("y1",1595).attr("y2",1595).attr("stroke","#222").attr("stroke-width",2);
rich(1365.4,1483,[["Cebpb","i"]],{anchor:"end"});
rich(1560,1839,[["Elane","i"]],{anchor:"middle"});
const geneBlue = "#3b409b";
function box(a, b, y0, y1) {
  svg.append("rect").attr("x",hx(a)).attr("width",hx(b)-hx(a)).attr("y",y0).attr("height",y1-y0).attr("fill",geneBlue);
}
function chevron(p, y, s, col, w) {
  svg.append("path").attr("d","M"+(hx(p)-s*0.45)+","+(y-s)+"L"+(hx(p)+s*0.45)+","+y+"L"+(hx(p)-s*0.45)+","+(y+s))
    .attr("fill","none").attr("stroke",col).attr("stroke-width",w);
}
box(cebpbThin[0],cebpbThin[1],1465,1480.7);
box(cebpbThick[0],cebpbThick[1],1459,1486.7);
cebpbChevrons.forEach(function(p){ chevron(p,1473,7.5,"#fff",3); });
svg.append("line").attr("x1",hx(932)).attr("x2",hx(1557)).attr("y1",1848).attr("y2",1848).attr("stroke",geneBlue).attr("stroke-width",3);
box(932,942,1843,1854);
elaneExons.forEach(function(e){ box(e[0],e[1],1838,1860); });
elaneIntronMarks.forEach(function(p){ chevron(p,1848,6.5,geneBlue,3); });
elaneExonMarks.forEach(function(p){ chevron(p,1848,6.5,"#fff",3); });
</script>
</body>
</html>
